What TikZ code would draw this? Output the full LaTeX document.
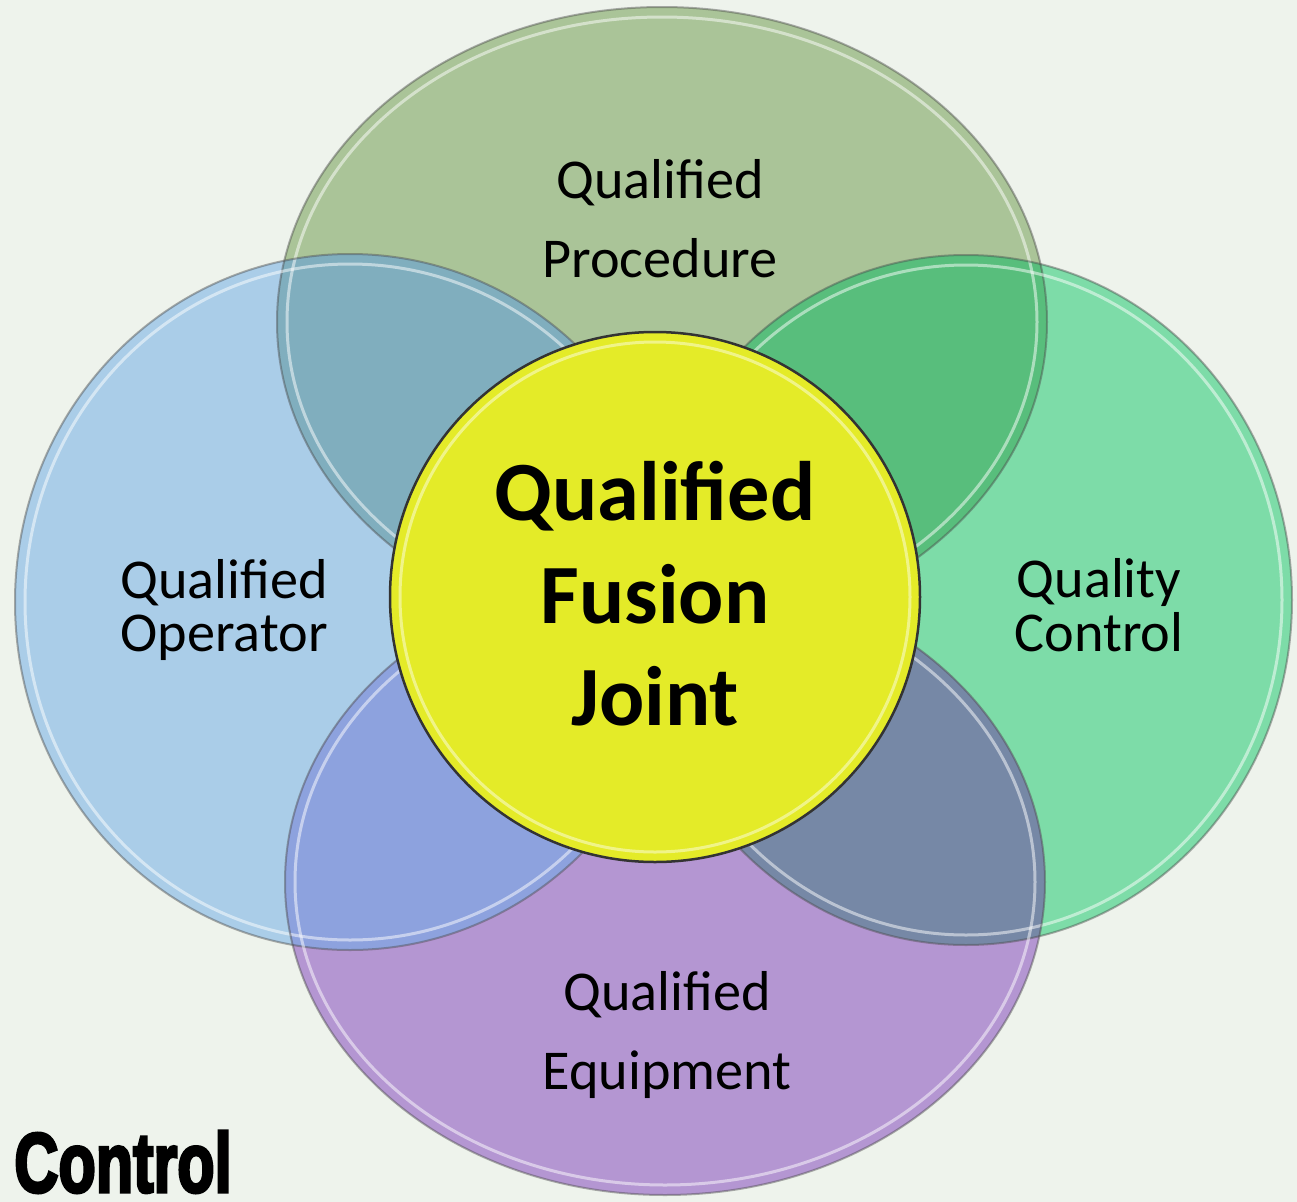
\documentclass[tikz,border=0pt]{standalone}
\usepackage{fontspec}
\setmainfont{Carlito}
\newfontfamily\ctrlfont{Liberation Sans}[BoldFeatures={FakeBold=4}]
\usetikzlibrary{positioning}

\definecolor{bgcol}{HTML}{EEF3EC}
\definecolor{proccol}{HTML}{AAC498}
\definecolor{opercol}{HTML}{AACDE8}
\definecolor{qccol}{HTML}{7DDCA8}
\definecolor{equipcol}{HTML}{B496D2}
\definecolor{procoper}{HTML}{80AEBE}
\definecolor{procqc}{HTML}{58BE7C}
\definecolor{operequip}{HTML}{8DA2DE}
\definecolor{qcequip}{HTML}{7688A6}
\definecolor{hubcol}{HTML}{E4EB28}

% the four petals
\newcommand\procpath{(662,322) ellipse [x radius=385, y radius=315]}
\newcommand\operpath{(350,602) ellipse [x radius=335, y radius=348]}
\newcommand\qcpath{(966,600) ellipse [x radius=326, y radius=345]}
\newcommand\equippath{(665,882) ellipse [x radius=380, y radius=313]}

\tikzset{
  rim/.style={draw=black!70, draw opacity=.45, line width=.4mm},
  shine/.style={draw=white, draw opacity=.5, line width=.6mm},
  lbl/.style={align=center, inner sep=0pt, font=\fontsize{32}{45}\selectfont},
  sidelbl/.style={align=center, inner sep=0pt, font=\fontsize{32}{30.7}\selectfont},
  hublbl/.style={align=center, inner sep=0pt, font=\fontsize{48}{58.3}\selectfont\bfseries}
}

\begin{document}
\begin{tikzpicture}[x=0.2mm, y=-0.2mm]
        \fill[bgcol] (0,0) rectangle (1297,1202);
        \useasboundingbox (0,0) rectangle (1297,1202);

        \fill[proccol] \procpath;
        \fill[opercol] \operpath;
        \fill[qccol] \qcpath;
        \fill[equipcol] \equippath;

        % overlaps
        \begin{scope}
          \clip \procpath;
          \fill[procoper] \operpath;
          \fill[procqc] \qcpath;
        \end{scope}
        \begin{scope}
          \clip \equippath;
          \fill[operequip] \operpath;
          \fill[qcequip] \qcpath;
        \end{scope}

        \foreach \cx/\cy/\rx/\ry in {662/322/385/315, 350/602/335/348, 966/600/326/345, 665/882/380/313}{
          \draw[rim] (\cx,\cy) ellipse [x radius=\rx, y radius=\ry];
          \draw[shine] (\cx,\cy) ellipse [x radius=\rx-10, y radius=\ry-10];
        }

        % centre disc
        \fill[hubcol] (655,597) circle [radius=265];
        \draw[black!80, line width=.5mm] (655,597) circle [radius=265];
        \draw[white, draw opacity=.45, line width=.6mm] (655,597) circle [radius=255];

        \node[lbl] (proc) at (660,219) {Qualified\\Procedure};
        \node[sidelbl] (oper) at (224,610) {Qualified\\Operator};
        \node[sidelbl] (qc) at (1099,605) {Quality\\Control};
        \node[lbl] (equip) at (667,1035) {Qualified\\Equipment};
        \node[hublbl] (joint) at (655,594) {Qualified\\Fusion\\Joint};

        \node[anchor=base west, inner sep=0pt] (ctrl) at (14,1192)
          {\fontsize{47}{47}\ctrlfont\bfseries\scalebox{0.74}[1.02]{Control}};
\end{tikzpicture}
\end{document}
